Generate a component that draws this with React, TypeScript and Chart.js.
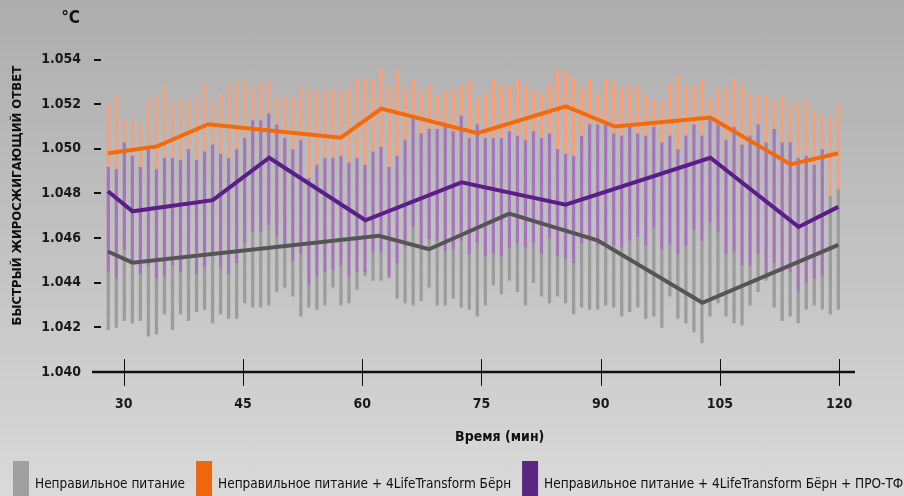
import React, { useEffect, useRef } from "react";
import { Chart, registerables } from "chart.js";

Chart.register(...registerables);

const FONT = "'DejaVu Sans Condensed', 'Liberation Sans Narrow', 'Roboto Condensed', 'Noto Sans', sans-serif";

// ---- axis ticks ----
const xTicks = [30, 45, 60, 75, 90, 105, 120];
const yTicks = [1.04, 1.042, 1.044, 1.046, 1.048, 1.05, 1.052, 1.054];

// ---- legend / texts ----
const seriesNames = [
  "Неправильное питание",
  "Неправильное питание + 4LifeTransform Бёрн",
  "Неправильное питание + 4LifeTransform Бёрн + ПРО-ТФ",
];
const yTitle = "БЫСТРЫЙ ЖИРОСЖИГАЮЩИЙ ОТВЕТ";
const xTitle = "Время (мин)";
const unitLabel = "°C";

// ---- mean lines (time in minutes, value) ----
const grayTimes = [28.0, 31.1, 62.1, 68.4, 78.5, 89.6, 102.8, 119.9];
const grayMeans = [1.0454, 1.0449, 1.0461, 1.0455, 1.0471, 1.0459, 1.0431, 1.0457];

const orangeTimes = [28.0, 34.1, 40.6, 57.3, 62.4, 74.5, 85.6, 91.8, 103.8, 113.9, 119.9];
const orangeMeans = [1.0498, 1.0501, 1.0511, 1.0505, 1.0518, 1.0507, 1.0519, 1.051, 1.0514, 1.0493, 1.0498];

const purpleTimes = [28.0, 31.1, 41.2, 48.3, 60.4, 72.5, 85.6, 103.8, 114.9, 119.9];
const purpleMeans = [1.0481, 1.0472, 1.0477, 1.0496, 1.0468, 1.0485, 1.0475, 1.0496, 1.0465, 1.0474];

// ---- spread bars (one per sample, 92 samples) ----
// visible segments: orange [orangeLow, orangeHigh], purple [purpleLow, orangeLow], gray [grayLow, purpleLow]
const orangeHigh = [
  1.052, 1.0524, 1.0513, 1.0513, 1.0511, 1.0522, 1.0524, 1.0528, 1.0521, 1.0522, 1.0522, 1.0523, 1.0529, 1.0521, 1.0525, 1.0529,
  1.053, 1.053, 1.0527, 1.053, 1.053, 1.0523, 1.0524, 1.0523, 1.0527, 1.0527, 1.0526, 1.0526, 1.0527, 1.0526, 1.0527, 1.0531,
  1.0532, 1.0531, 1.0536, 1.0528, 1.0535, 1.0527, 1.0531, 1.0526, 1.0528, 1.0524, 1.0526, 1.0526, 1.0528, 1.053, 1.0523, 1.0525,
  1.0531, 1.0528, 1.0528, 1.0531, 1.0528, 1.0526, 1.0525, 1.0529, 1.0535, 1.0535, 1.0532, 1.0527, 1.0531, 1.0525, 1.0531,
  1.053, 1.0527, 1.0528, 1.0528, 1.0524, 1.0522, 1.0521, 1.0529, 1.0533, 1.0528, 1.0528, 1.0531, 1.0523, 1.0527, 1.0527, 1.0532,
  1.0529, 1.0525, 1.0524, 1.0524, 1.0521, 1.0524, 1.052, 1.0521, 1.0522, 1.0517, 1.0515, 1.0515, 1.052,
];
const orangeLow = [
  1.0492, 1.0491, 1.0503, 1.0497, 1.0492, 1.05, 1.0491, 1.0496, 1.0496, 1.0495, 1.05, 1.0495, 1.0499, 1.0502, 1.0498, 1.0496,
  1.05, 1.0505, 1.0513, 1.0513, 1.0516, 1.0511, 1.0505, 1.05, 1.0504, 1.0487, 1.0493, 1.0496, 1.0496, 1.0497, 1.0494, 1.0496,
  1.0493, 1.0499, 1.0501, 1.0492, 1.0497, 1.0504, 1.0514, 1.0507, 1.0509, 1.0509, 1.051, 1.0508, 1.0515, 1.0505, 1.0511, 1.0505,
  1.0505, 1.0505, 1.0508, 1.0506, 1.0504, 1.0508, 1.0505, 1.0507, 1.05, 1.0498, 1.0497, 1.0506, 1.0511, 1.0511, 1.0511,
  1.0507, 1.0506, 1.051, 1.0507, 1.0506, 1.051, 1.0503, 1.0506, 1.05, 1.0506, 1.0511, 1.0506, 1.0513, 1.0511, 1.0504, 1.051,
  1.0502, 1.0506, 1.0511, 1.0503, 1.0509, 1.0503, 1.0503, 1.0496, 1.0497, 1.0493, 1.05, 1.0479, 1.0482,
];
const purpleLow = [
  1.0445, 1.0442, 1.0455, 1.0449, 1.0444, 1.0448, 1.0442, 1.0443, 1.0448, 1.0445, 1.0451, 1.0444, 1.0447, 1.0452, 1.0447, 1.0444,
  1.0449, 1.0458, 1.0463, 1.0463, 1.0466, 1.0461, 1.0456, 1.045, 1.0453, 1.0439, 1.0443, 1.0445, 1.0446, 1.0448, 1.0443, 1.0445,
  1.0445, 1.0454, 1.0454, 1.0443, 1.0449, 1.0456, 1.0465, 1.0455, 1.046, 1.0459, 1.0454, 1.0455, 1.0459, 1.0453, 1.0458, 1.0452,
  1.0453, 1.0452, 1.0456, 1.0458, 1.0456, 1.0458, 1.0453, 1.046, 1.0452, 1.0451, 1.0449, 1.0458, 1.0459, 1.0457, 1.0458,
  1.0457, 1.0456, 1.0459, 1.0461, 1.0457, 1.0465, 1.0455, 1.0458, 1.0453, 1.0457, 1.0464, 1.0459, 1.0467, 1.0463, 1.0453, 1.0454,
  1.0448, 1.0448, 1.0453, 1.0442, 1.0449, 1.0445, 1.0445, 1.0436, 1.044, 1.0442, 1.0443, 1.0479, 1.0482,
];
const grayLow = [
  1.0419, 1.042, 1.0423, 1.0422, 1.0423, 1.0416, 1.0417, 1.0426, 1.0419, 1.0426, 1.0423, 1.0427, 1.0428, 1.0422, 1.0426, 1.0424,
  1.0424, 1.0431, 1.0429, 1.0429, 1.043, 1.0436, 1.0438, 1.0434, 1.0425, 1.0429, 1.0428, 1.043, 1.0438, 1.043, 1.0431, 1.0437,
  1.0443, 1.0441, 1.0441, 1.0442, 1.0433, 1.0431, 1.043, 1.0432, 1.0438, 1.043, 1.043, 1.0433, 1.0429, 1.0428, 1.0425, 1.043,
  1.0439, 1.0435, 1.0441, 1.0436, 1.043, 1.044, 1.0434, 1.0431, 1.0434, 1.0431, 1.0426, 1.0429, 1.0428, 1.0428, 1.043,
  1.0429, 1.0425, 1.0427, 1.0429, 1.0424, 1.0425, 1.042, 1.0434, 1.0424, 1.0422, 1.0418, 1.0413, 1.0425, 1.0431, 1.0425, 1.0422,
  1.0421, 1.043, 1.0436, 1.0441, 1.0429, 1.0423, 1.0425, 1.0422, 1.0428, 1.043, 1.0428, 1.0426, 1.0428,
];

const COLORS = {
  grayLine: "#555555",
  orangeLine: "#f26a0c",
  purpleLine: "#5a1f86",
  grayBar: "#9c9c9c",
  orangeBar: "#f5a27c",
  purpleBar: "#a676ba",
  legend: ["#a0a0a0", "#ec670e", "#5e2582"],
};

const decorPlugin = {
  id: "decor",
  afterDraw(chart: any) {
    const { ctx, chartArea } = chart;
    const xs = chart.scales.x;
    const ys = chart.scales.y;
    ctx.save();
    // x axis line
    const base = ys.getPixelForValue(1.04);
    ctx.strokeStyle = "#111";
    ctx.lineWidth = 2.5;
    ctx.beginPath();
    ctx.moveTo(chartArea.left, base);
    ctx.lineTo(chartArea.right, base);
    ctx.stroke();
    // x tick marks crossing the axis
    ctx.lineWidth = 1;
    xTicks.forEach((v) => {
      const px = Math.round(xs.getPixelForValue(v)) + 0.5;
      ctx.beginPath();
      ctx.moveTo(px, base - 13);
      ctx.lineTo(px, base + 14);
      ctx.stroke();
    });
    // y tick marks
    ctx.lineWidth = 2;
    yTicks.forEach((v) => {
      if (v === 1.04) return;
      const py = Math.round(ys.getPixelForValue(v));
      ctx.beginPath();
      ctx.moveTo(chartArea.left + 2, py);
      ctx.lineTo(chartArea.left + 9, py);
      ctx.stroke();
    });
    // unit label
    ctx.fillStyle = "#111";
    ctx.font = `bold 17px ${FONT}`;
    ctx.textAlign = "right";
    ctx.textBaseline = "middle";
    ctx.fillText(unitLabel, chartArea.left - 12, 19);
    // x axis title
    ctx.font = `bold 14px ${FONT}`;
    ctx.textAlign = "center";
    ctx.fillText(xTitle, xs.getPixelForValue(77.3), 437);
    // legend
    let size = 14.5;
    const boxW = 16;
    const gap = 6;
    const itemGap = 11;
    let widths: number[] = [];
    for (; size > 9; size -= 0.5) {
      ctx.font = `${size}px ${FONT}`;
      widths = seriesNames.map((t) => ctx.measureText(t).width);
      const total = widths.reduce((a, b) => a + b, 0) + seriesNames.length * (boxW + gap) + (seriesNames.length - 1) * itemGap;
      if (total <= 892) break;
    }
    let x = 13;
    ctx.textAlign = "left";
    ctx.textBaseline = "middle";
    seriesNames.forEach((t, i) => {
      ctx.fillStyle = COLORS.legend[i];
      ctx.fillRect(x, 461, boxW, 40);
      ctx.fillStyle = "#111";
      ctx.fillText(t, x + boxW + gap, 484);
      x += boxW + gap + widths[i] + itemGap;
    });
    ctx.restore();
  },
};

export default function App() {
  const ref = useRef<HTMLCanvasElement | null>(null);

  useEffect(() => {
    if (!ref.current) return;
    const idx = orangeHigh.map((_, i) => i);
    const line = (times: number[], vals: number[], color: string, label: string) => ({
      type: "line" as const,
      label,
      data: times.map((t, i) => ({ x: t, y: vals[i] })),
      borderColor: color,
      backgroundColor: color,
      borderWidth: 4,
      pointRadius: 0,
      tension: 0,
      borderJoinStyle: "miter" as const,
      xAxisID: "x",
      yAxisID: "y",
      order: 0,
    });
    const bar = (lo: number[], hi: number[], color: string, label: string) => ({
      type: "bar" as const,
      label,
      data: idx.map((i) => ({ x: i, y: [lo[i], hi[i]] })),
      backgroundColor: color,
      borderWidth: 0,
      barThickness: 2.6,
      grouped: false,
      xAxisID: "xb",
      yAxisID: "y",
      order: 1,
    });
    const chart = new Chart(ref.current, {
      type: "bar",
      data: {
        datasets: [
          line(orangeTimes, orangeMeans, COLORS.orangeLine, seriesNames[1]),
          line(purpleTimes, purpleMeans, COLORS.purpleLine, seriesNames[2]),
          line(grayTimes, grayMeans, COLORS.grayLine, seriesNames[0]),
          bar(orangeLow, orangeHigh, COLORS.orangeBar, seriesNames[1]),
          bar(purpleLow, orangeLow, COLORS.purpleBar, seriesNames[2]),
          bar(grayLow, purpleLow, COLORS.grayBar, seriesNames[0]),
        ] as any,
      },
      options: {
        animation: false,
        responsive: true,
        maintainAspectRatio: false,
        layout: { padding: { top: 14, left: 0, right: 49, bottom: 0 } },
        plugins: { legend: { display: false }, tooltip: { enabled: false } },
        scales: {
          x: {
            type: "linear",
            position: "bottom",
            offset: false,
            min: 26,
            max: 122,
            afterBuildTicks: (s: any) => {
              s.ticks = xTicks.map((v) => ({ value: v }));
            },
            afterFit: (s: any) => {
              s.height = 124;
            },
            grid: { display: false, drawTicks: false, offset: false },
            border: { display: false },
            ticks: {
              padding: 24,
              color: "#1a1a1a",
              font: { family: FONT, size: 14, weight: "bold" },
              maxRotation: 0,
            },
            title: { display: false },
          },
          xb: {
            type: "linear",
            display: false,
            offset: false,
            grid: { offset: false },
            min: -2.03,
            max: 93.08,
          },
          y: {
            type: "linear",
            position: "left",
            min: 1.04,
            max: 1.0558,
            afterBuildTicks: (s: any) => {
              s.ticks = yTicks.map((v) => ({ value: v }));
            },
            afterFit: (s: any) => {
              s.width = 92;
            },
            grid: { display: false, drawTicks: false },
            border: { display: false },
            ticks: {
              padding: 11,
              color: "#1a1a1a",
              font: { family: FONT, size: 14, weight: "bold" },
              callback: (v: any) => Number(v).toFixed(3),
            },
            title: {
              display: true,
              text: yTitle,
              color: "#111",
              font: { family: FONT, size: 13, weight: "bold" },
              padding: { top: 10, bottom: 0 },
            },
          },
        },
      } as any,
      plugins: [decorPlugin],
    });
    return () => chart.destroy();
  }, []);

  return (
    <div
      style={{
        position: "fixed",
        left: 0,
        top: 0,
        width: 904,
        height: 496,
        background: "linear-gradient(to bottom, #adadad 0%, #c4c4c4 55%, #dadada 100%)",
      }}
    >
      <canvas ref={ref} />
    </div>
  );
}
